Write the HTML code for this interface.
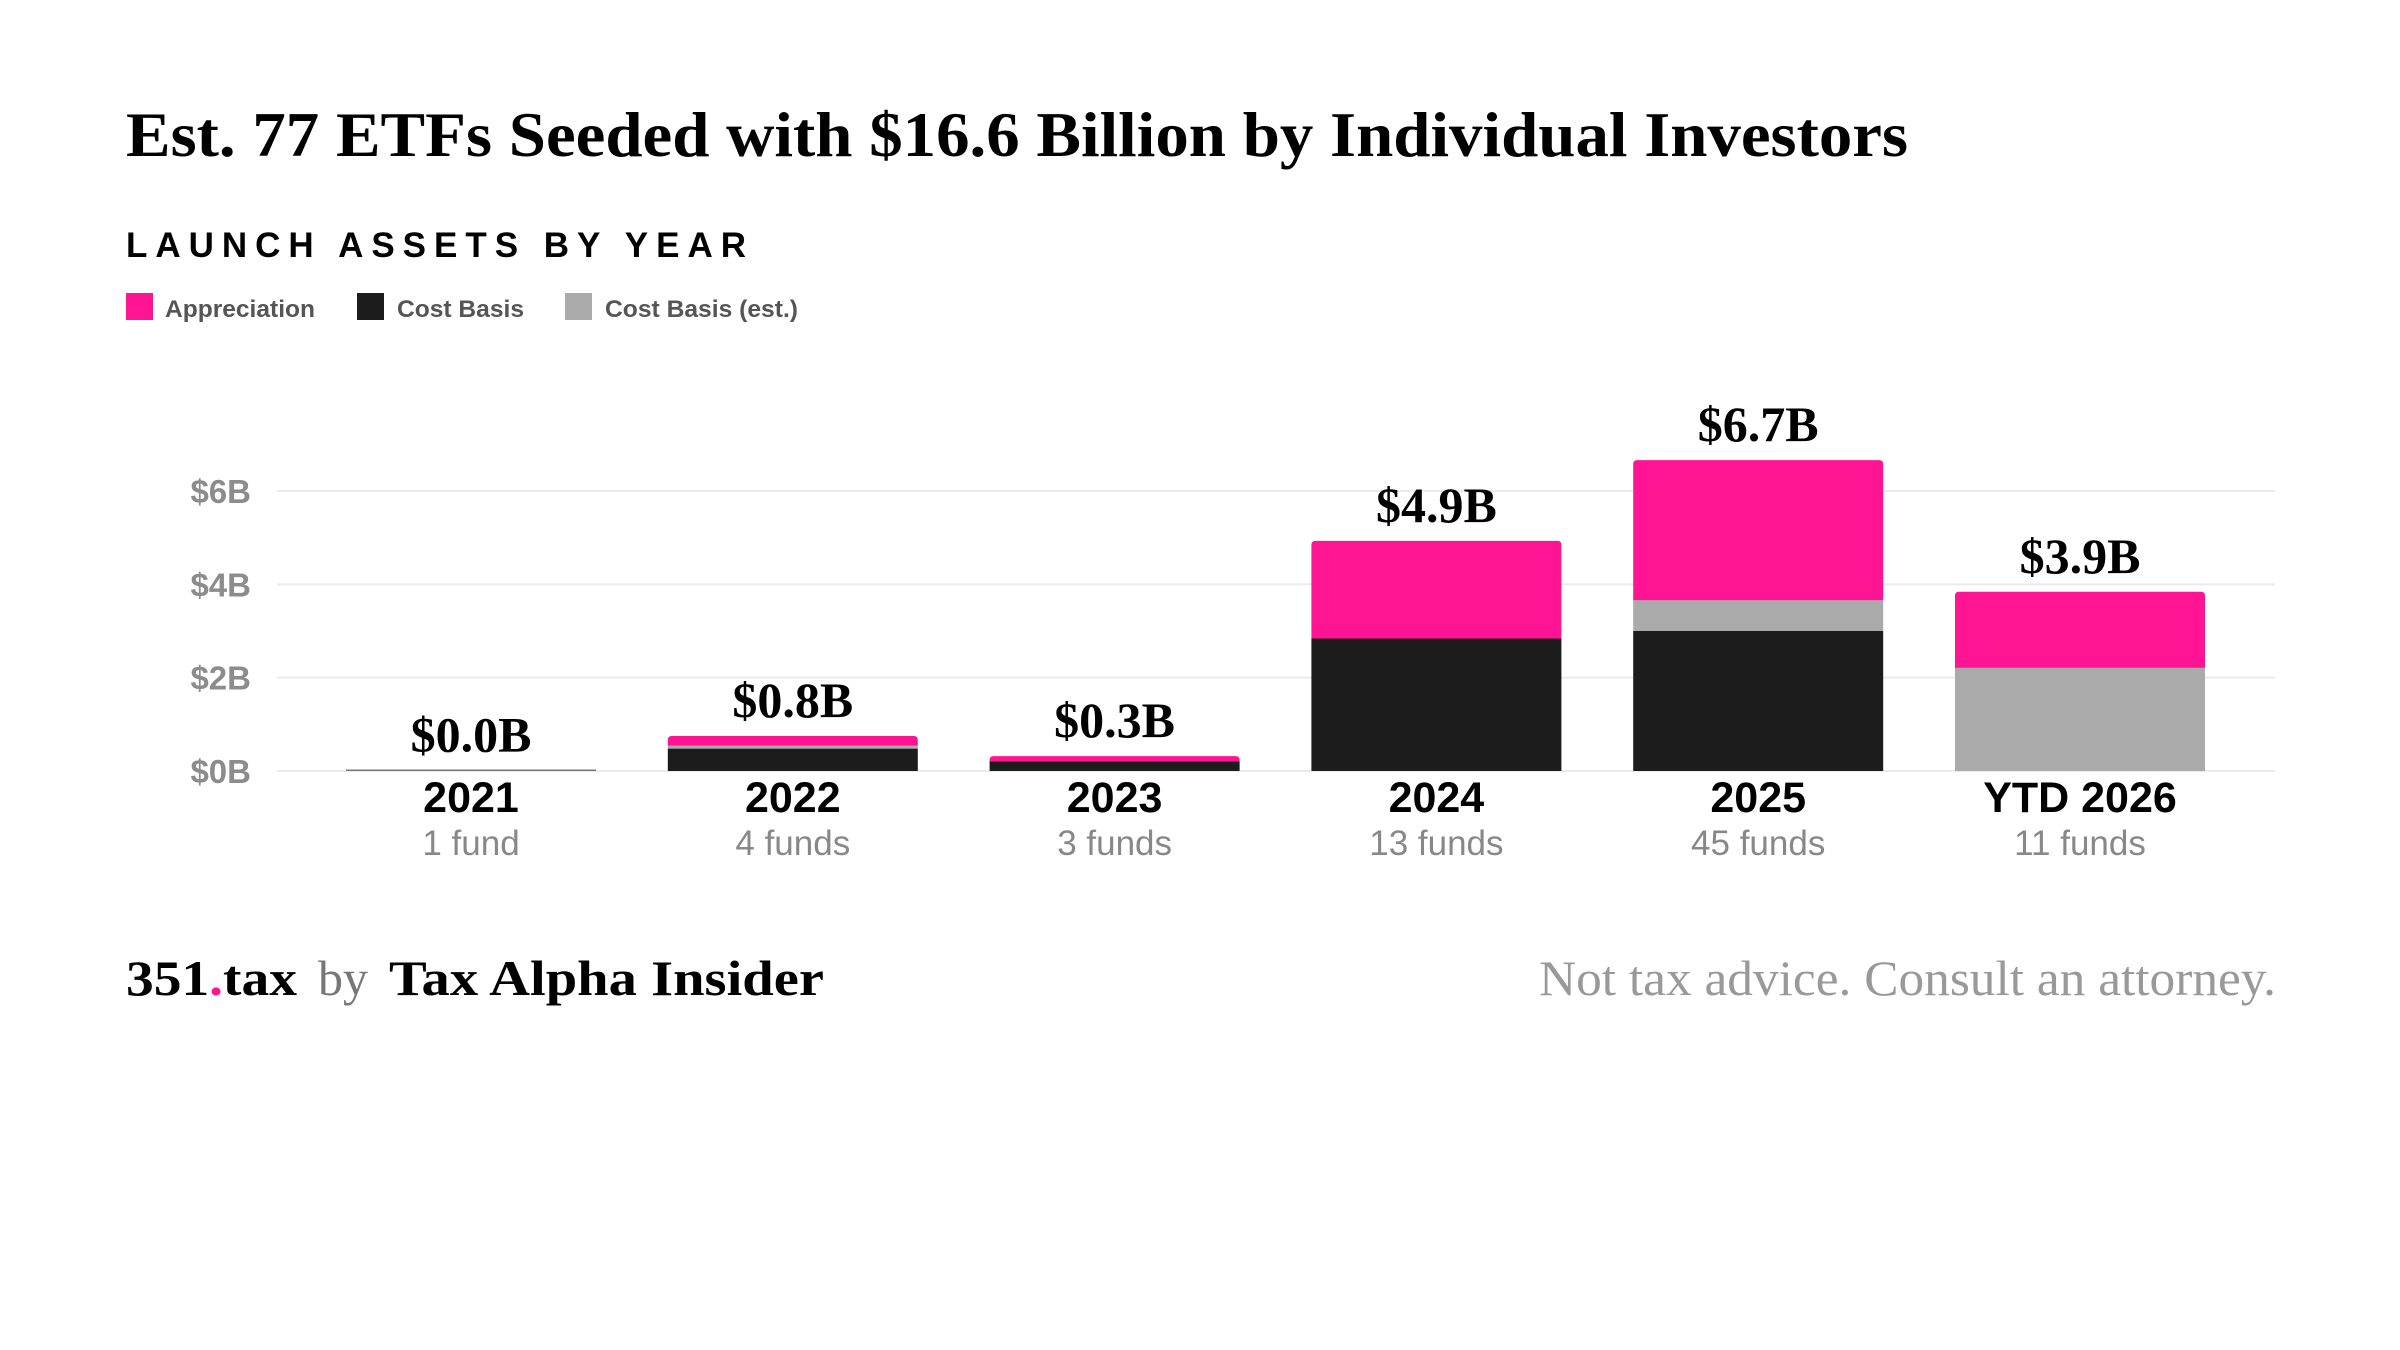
<!DOCTYPE html>
<html><head><meta charset="utf-8"><style>
html,body{margin:0;padding:0;background:#fff;}
svg{display:block;}
</style></head><body>
<svg id="chart" width="2400" height="1350" viewBox="0 0 2400 1350" xmlns="http://www.w3.org/2000/svg">
<rect width="2400" height="1350" fill="#fff"/>
<text x="126" y="156" font-family="'Liberation Serif',serif" font-weight="bold" font-size="64" fill="#000" textLength="1782" lengthAdjust="spacingAndGlyphs">Est. 77 ETFs Seeded with $16.6 Billion by Individual Investors</text>
<text x="126" y="257" font-family="'Liberation Sans',sans-serif" font-weight="bold" font-size="35" fill="#000" textLength="620" lengthAdjust="spacing">LAUNCH ASSETS BY YEAR</text>
<g font-family="'Liberation Sans',sans-serif" font-weight="bold" font-size="24" fill="#555">
 <g><rect x="126" y="293" width="27" height="27" fill="#ff1493"/><text x="165" y="317" textLength="150" lengthAdjust="spacingAndGlyphs">Appreciation</text></g>
 <g><rect x="357" y="293" width="27" height="27" fill="#1c1c1c"/><text x="397" y="317" textLength="127" lengthAdjust="spacingAndGlyphs">Cost Basis</text></g>
 <g><rect x="565" y="293" width="27" height="27" fill="#aaaaaa"/><text x="605" y="317" textLength="193" lengthAdjust="spacingAndGlyphs">Cost Basis (est.)</text></g>
</g>
<g id="grid"></g>
<g id="bars"></g>
<g id="labels"></g>
<g font-family="'Liberation Serif',serif">
 <text x="126" y="995" font-size="50" font-weight="bold" fill="#000" textLength="171" lengthAdjust="spacingAndGlyphs">351<tspan fill="#ff1493">.</tspan>tax</text>
 <text x="318" y="995" font-size="50" fill="#777">by</text>
 <text x="389" y="995" font-size="50" font-weight="bold" fill="#000" textLength="435" lengthAdjust="spacingAndGlyphs">Tax Alpha Insider</text>
 <text x="1539" y="995" font-size="50" fill="#999" textLength="737" lengthAdjust="spacingAndGlyphs">Not tax advice. Consult an attorney.</text>
</g>
</svg>
<script>
const categories = ["2021","2022","2023","2024","2025","YTD 2026"];
const fundCounts = ["1 fund","4 funds","3 funds","13 funds","45 funds","11 funds"];
const costBasis = [0, 0.48, 0.21, 2.84, 3.0, 0];
const costBasisEst = [0.01, 0.06, 0, 0, 0.66, 2.21];
const appreciation = [0, 0.21, 0.11, 2.09, 3.0, 1.63];
const totalLabels = ["$0.0B","$0.8B","$0.3B","$4.9B","$6.7B","$3.9B"];
const yTicks = [0, 2, 4, 6];
const yTickLabels = ["$0B","$2B","$4B","$6B"];

const NS = "http://www.w3.org/2000/svg";
const plotLeft = 277, plotRight = 2275, y0 = 771, pxPerB = 46.67;
const firstCenter = 471, pitch = 321.8, barW = 250;
function yScale(v){ return y0 - v * pxPerB; }
function xCenter(i){ return firstCenter + pitch * i; }
function mk(tag, attrs, parent){ const e = document.createElementNS(NS, tag); for (const k in attrs) e.setAttribute(k, attrs[k]); parent.appendChild(e); return e; }

const grid = document.getElementById('grid');
yTicks.forEach((t, i) => {
  const l = mk('line', {x1: plotLeft, x2: plotRight, y1: yScale(t), y2: yScale(t), stroke: '#ebebeb', 'stroke-width': 2}, grid);
  
  
  const tx = mk('text', {x: 251, y: yScale(t) + 12, 'text-anchor': 'end', 'font-family': "'Liberation Sans',sans-serif", 'font-weight': 'bold', 'font-size': 33, fill: '#8c8c8c'}, grid);
  tx.textContent = yTickLabels[i];
  
  
});

const bars = document.getElementById('bars');
const labels = document.getElementById('labels');
const series = [[costBasis, '#1c1c1c', 'cost-basis'], [costBasisEst, '#aaaaaa', 'cost-basis-est'], [appreciation, '#ff1493', 'appreciation']];
categories.forEach((c, i) => {
  const x = xCenter(i) - barW / 2;
  let acc = 0;
  const total = costBasis[i] + costBasisEst[i] + appreciation[i];
  series.forEach(([arr, col, nm]) => {
    const v = arr[i];
    if (v <= 0) return;
    const top = yScale(acc + v), bot = yScale(acc);
    const isTop = Math.abs(acc + v - total) < 1e-9;
    let h = Math.max(bot - top, 1.5);
    let r;
    if (isTop && h > 4) {
      r = mk('path', {d: `M${x},${bot} V${top + 4} Q${x},${top} ${x + 4},${top} H${x + barW - 4} Q${x + barW},${top} ${x + barW},${top + 4} V${bot} Z`, fill: col}, bars);
    } else {
      r = mk('rect', {x: x, y: bot - h, width: barW, height: h, fill: col === '#aaaaaa' && v < 0.05 ? '#777' : col}, bars);
    }
    
    
    acc += v;
  });
  const vl = mk('text', {x: xCenter(i), y: yScale(total) - 19, 'text-anchor': 'middle', 'font-family': "'Liberation Serif',serif", 'font-weight': 'bold', 'font-size': 50, fill: '#000'}, labels);
  vl.textContent = totalLabels[i];
  
  
  const cl = mk('text', {x: xCenter(i), y: 812, 'text-anchor': 'middle', 'font-family': "'Liberation Sans',sans-serif", 'font-weight': 'bold', 'font-size': 43, fill: '#000'}, labels);
  cl.textContent = c;
  
  
  const fl = mk('text', {x: xCenter(i), y: 855, 'text-anchor': 'middle', 'font-family': "'Liberation Sans',sans-serif", 'font-size': 35, fill: '#888'}, labels);
  fl.textContent = fundCounts[i];
  
  
});
</script>
</body></html>
